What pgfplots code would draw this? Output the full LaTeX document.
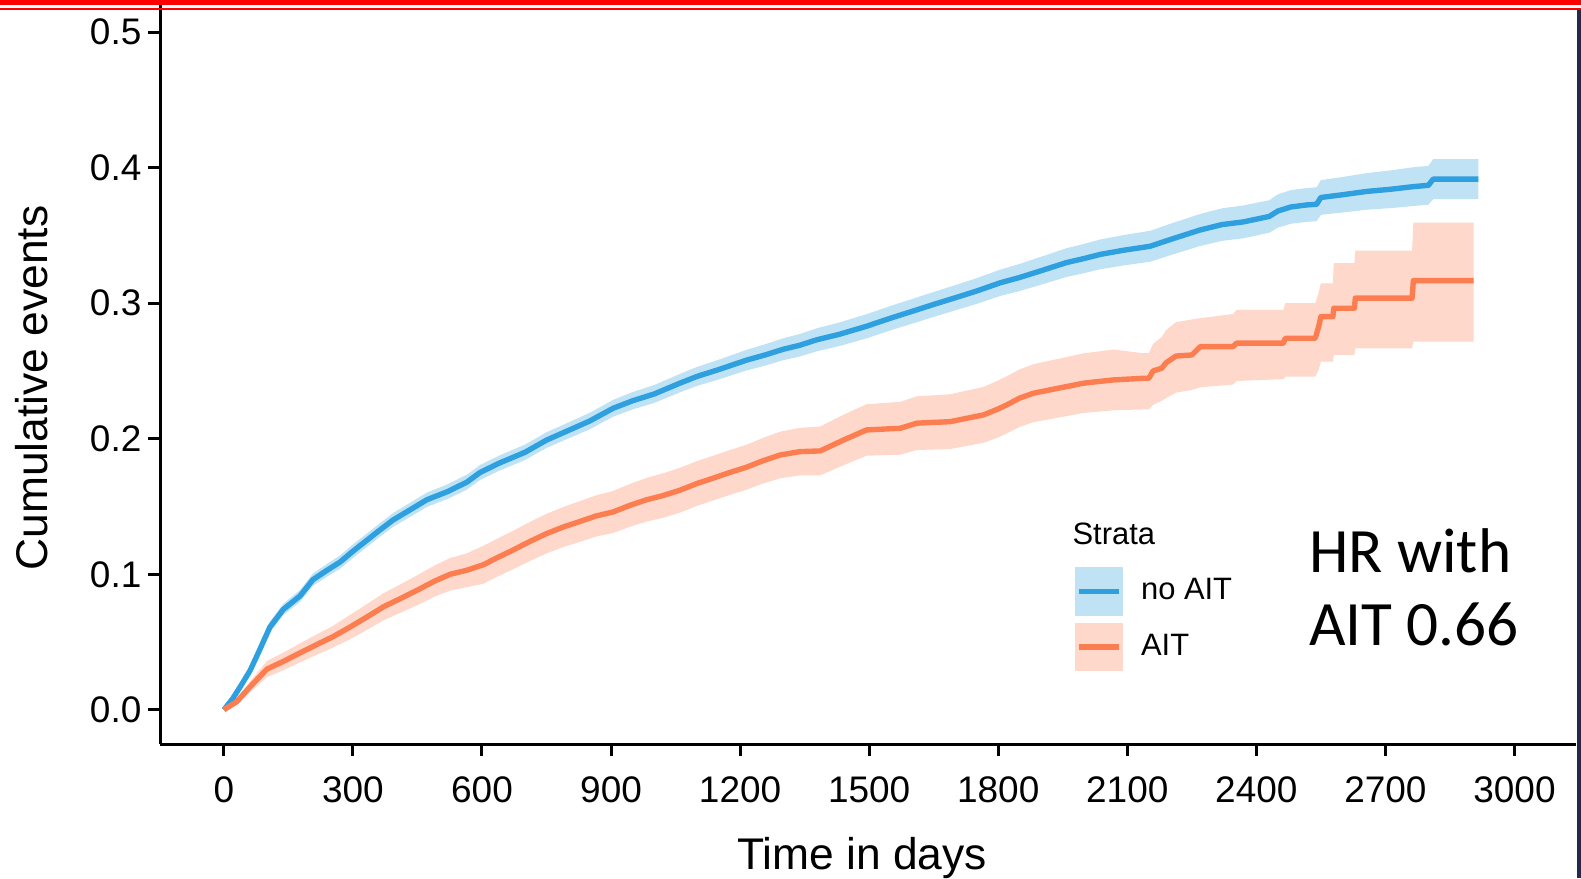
\documentclass[border=0pt]{standalone}
\usepackage{pgfplots}
\pgfplotsset{compat=1.18}
\usepackage{pgfplotstable}
\usepgfplotslibrary{fillbetween}
\usepackage{fontspec}
\setmainfont{Liberation Sans}
\newfontfamily\calibri{Carlito}
\definecolor{nblue}{HTML}{2E9FDF}
\definecolor{norange}{HTML}{FC7D4F}
\definecolor{navy}{HTML}{1F2A4F}

\pgfplotstableread{
t est lo hi
0 0 0 0
20 0.008 0.007 0.009
40 0.018 0.016 0.020
61 0.029 0.026 0.032
80 0.042 0.0385 0.0455
107 0.061 0.057 0.065
138 0.074 0.0698 0.0782
177 0.084 0.0796 0.0884
207 0.096 0.0914 0.1006
240 0.103 0.0983 0.1077
270 0.109 0.1041 0.1139
300 0.117 0.112 0.122
332 0.125 0.120 0.130
360 0.132 0.127 0.137
393 0.140 0.1349 0.1451
430 0.147 0.1418 0.1522
472 0.155 0.1497 0.1603
520 0.161 0.1556 0.1664
565 0.168 0.1625 0.1735
595 0.175 0.1695 0.1805
640 0.182 0.1764 0.1876
700 0.190 0.1843 0.1957
750 0.199 0.1932 0.2048
800 0.206 0.2001 0.2119
850 0.213 0.2069 0.2191
905 0.2225 0.2163 0.2287
950 0.228 0.2216 0.2344
1000 0.233 0.2264 0.2396
1060 0.241 0.2342 0.2478
1100 0.246 0.2390 0.2530
1150 0.251 0.2437 0.2583
1215 0.258 0.2504 0.2656
1260 0.262 0.2541 0.2699
1300 0.266 0.2579 0.2741
1339 0.269 0.2607 0.2773
1378 0.273 0.2645 0.2815
1430 0.277 0.2683 0.2857
1494 0.283 0.2741 0.2919
1550 0.289 0.2800 0.2980
1600 0.294 0.2849 0.3031
1649 0.299 0.2898 0.3082
1700 0.304 0.2947 0.3133
1750 0.309 0.2995 0.3185
1804 0.315 0.3053 0.3247
1850 0.319 0.3090 0.3290
1900 0.324 0.3137 0.3343
1959 0.330 0.3194 0.3406
2000 0.333 0.3222 0.3438
2037 0.336 0.3250 0.3470
2090 0.339 0.3278 0.3502
2153 0.342 0.3306 0.3534
2200 0.347 0.3354 0.3586
2269 0.354 0.3422 0.3658
2320 0.358 0.3460 0.3700
2370 0.360 0.3479 0.3721
2430 0.364 0.3520 0.3760
2450 0.368 0.3557 0.3803
2480 0.371 0.3586 0.3834
2517 0.3725 0.3600 0.3850
2540 0.3730 0.3605 0.3855
2550 0.378 0.3652 0.3908
2600 0.380 0.3669 0.3931
2657 0.3825 0.3690 0.3960
2710 0.384 0.3701 0.3979
2765 0.386 0.3717 0.4003
2800 0.387 0.3727 0.4013
2811 0.3915 0.3767 0.4063
2916 0.3915 0.3767 0.4063
}\noait

\pgfplotstableread{
t est lo hi
0 0 0 0
30 0.006 0.004 0.008
61 0.017 0.013 0.021
100 0.030 0.024 0.036
140 0.036 0.0295 0.0425
177 0.042 0.035 0.049
215 0.048 0.0405 0.0555
254 0.054 0.046 0.062
293 0.061 0.052 0.070
330 0.068 0.0585 0.0775
371 0.076 0.066 0.086
410 0.082 0.0715 0.0925
448 0.088 0.077 0.099
490 0.095 0.0835 0.1065
526 0.100 0.088 0.112
565 0.103 0.0905 0.1155
603 0.107 0.093 0.121
634 0.112 0.098 0.126
673 0.118 0.1038 0.1322
710 0.124 0.1096 0.1384
750 0.130 0.1154 0.1446
790 0.135 0.1202 0.1498
828 0.139 0.1240 0.1540
865 0.143 0.1278 0.1582
905 0.146 0.1305 0.1615
945 0.151 0.1352 0.1668
983 0.155 0.1389 0.1711
1020 0.158 0.1416 0.1744
1060 0.162 0.1455 0.1785
1100 0.167 0.1505 0.1835
1138 0.171 0.1545 0.1875
1175 0.175 0.1585 0.1915
1215 0.179 0.1624 0.1956
1255 0.184 0.1672 0.2008
1293 0.188 0.1708 0.2052
1339 0.1905 0.1730 0.2080
1386 0.1910 0.1730 0.2090
1420 0.196 0.1776 0.2144
1440 0.199 0.1804 0.2176
1494 0.2065 0.1875 0.2255
1572 0.2077 0.1882 0.2272
1611 0.2115 0.1917 0.2313
1688 0.2126 0.1924 0.2328
1766 0.2176 0.1970 0.2382
1800 0.222 0.2010 0.2430
1820 0.225 0.2039 0.2461
1850 0.230 0.2088 0.2512
1882 0.2336 0.2122 0.2550
1959 0.2385 0.2167 0.2603
1998 0.241 0.2190 0.2630
2068 0.2434 0.2210 0.2658
2137 0.2446 0.2216 0.2631
2150 0.2446 0.2216 0.2631
2160 0.2500 0.2250 0.2700
2180 0.2520 0.2280 0.2750
2190 0.2560 0.2300 0.2800
2213 0.2610 0.2340 0.2860
2250 0.2618 0.2360 0.2880
2270 0.2680 0.2380 0.2890
2346 0.2680 0.2400 0.2920
2354 0.2705 0.2426 0.2950
2463 0.2705 0.2440 0.2950
2467 0.2741 0.2458 0.3000
2537 0.2741 0.2458 0.3000
2545 0.2830 0.2510 0.3080
2550 0.2901 0.2569 0.3147
2578 0.2901 0.2569 0.3147
2580 0.2963 0.2618 0.3295
2628 0.2963 0.2618 0.3295
2630 0.3037 0.2667 0.3388
2762 0.3037 0.2667 0.3388
2765 0.3167 0.2716 0.3594
2905 0.3167 0.2716 0.3594
}\ait

\begin{document}
\begin{tikzpicture}
\begin{axis}[
  scale only axis, width=421.2pt, height=219.9pt,
  xmin=-147.7, xmax=3143, ymin=-0.0253, ymax=0.520,
  axis lines*=left,
  axis line style={line width=0.9pt, black},
  xtick={0,300,600,900,1200,1500,1800,2100,2400,2700,3000},
  ytick={0,0.1,0.2,0.3,0.4,0.5},
  tick style={line width=0.9pt, black},
  tick align=outside, major tick length=3.6pt,
  ticklabel style={font=\fontsize{11}{13}\selectfont},
  /pgf/number format/assume math mode=true,
  xticklabel style={yshift=-2.7pt, /pgf/number format/1000 sep={}},
  yticklabel style={xshift=1.5pt, /pgf/number format/.cd, fixed, fixed zerofill, precision=1},
  xlabel={Time in days}, ylabel={Cumulative events},
  xlabel style={font=\fontsize{13.2}{15}\selectfont, at={(axis description cs:0.4957,-0.1692)}, anchor=base},
  ylabel style={font=\fontsize{13.2}{15}\selectfont, at={(axis description cs:-0.0912,0.4816)}, anchor=center, rotate=0},
  clip=false,
  legend style={at={(0.6453,0.2401)}, anchor=north west, draw=none, fill=none,
    inner sep=0pt, row sep=2.1pt, font=\fontsize{9.2}{11}\selectfont},
  legend cell align=left,
]
\addplot[name path=bu, draw=none, forget plot] table[x=t,y=hi]{\noait};
\addplot[name path=bl, draw=none, forget plot] table[x=t,y=lo]{\noait};
\addplot[fill=nblue, fill opacity=0.3, draw=none, forget plot] fill between[of=bu and bl];
\addplot[name path=ou, draw=none, forget plot] table[x=t,y=hi]{\ait};
\addplot[name path=ol, draw=none, forget plot] table[x=t,y=lo]{\ait};
\addplot[fill=norange, fill opacity=0.3, draw=none, forget plot] fill between[of=ou and ol];

\addplot[nblue, line width=1.6pt, line join=round,
  legend image code/.code={\path[fill=nblue, fill opacity=0.3, draw=none] (0pt,-7.2pt) rectangle (14.4pt,7.2pt);
  \path[draw=nblue, line width=1.5pt] (1.2pt,0pt) -- (13.2pt,0pt);
  \path[draw=none, fill=none] (14.4pt,0pt) -- (17.8pt,0pt);}] table[x=t,y=est]{\noait};
\addlegendentry{no AIT}
\addplot[norange, line width=1.6pt, line join=round,
  legend image code/.code={\path[fill=norange, fill opacity=0.3, draw=none] (0pt,-7.2pt) rectangle (14.4pt,7.2pt);
  \path[draw=norange, line width=1.5pt] (1.2pt,0pt) -- (13.2pt,0pt);
  \path[draw=none, fill=none] (14.4pt,0pt) -- (17.8pt,0pt);}] table[x=t,y=est]{\ait};
\addlegendentry{AIT}

\node[anchor=base west, font=\fontsize{9.2}{11}\selectfont, inner sep=0pt] at (axis description cs:0.6439,0.270) {Strata};
\node[anchor=base west, font=\calibri\fontsize{18.8}{22}\selectfont, inner sep=0pt] at (axis description cs:0.8112,0.2319) {HR with};
\node[anchor=base west, font=\calibri\fontsize{18.8}{22}\selectfont, inner sep=0pt] at (axis description cs:0.8112,0.1337) {AIT 0.66};

\coordinate (BL) at (axis description cs:-0.11325,-0.18145);
\coordinate (TR) at (axis description cs:1.00356,1.00682);
\fill[red] (axis description cs:-0.11325,1.0) rectangle (axis description cs:1.00356,1.00682);
\fill[red] (axis description cs:-0.11325,0.99386) rectangle (axis description cs:1.00356,0.99659);
\fill[navy] (axis description cs:1.0010,-0.18145) rectangle (axis description cs:1.00356,0.9932);
\end{axis}
\pgfresetboundingbox
\useasboundingbox (BL) rectangle (TR);
\end{tikzpicture}
\end{document}
